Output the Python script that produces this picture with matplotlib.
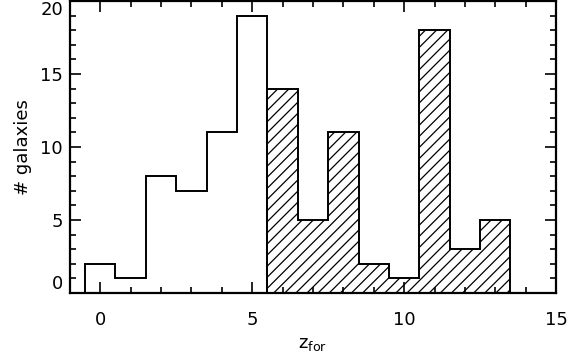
import numpy as np
import matplotlib.pyplot as plt

plt.rcParams['font.family'] = ['DejaVu Sans']
plt.rcParams['hatch.linewidth'] = 0.9

# bin centres and counts
z_young = [0, 1, 2, 3, 4, 5]
n_young = [2, 1, 8, 7, 11, 19]
z_old = [6, 7, 8, 9, 10, 11, 12, 13]
n_old = [14, 5, 11, 2, 1, 18, 3, 5]

def edges(centres):
    c = np.asarray(centres, dtype=float)
    return np.append(c - 0.5, c[-1] + 0.5)

fig = plt.figure(figsize=(5.68, 3.57), dpi=100)
ax = fig.add_axes([0.123, 0.179, 0.856, 0.818])

ax.stairs(n_young, edges(z_young), baseline=0, color='black', linewidth=1.4)
ax.stairs(n_old, edges(z_old), baseline=0, fill=True, facecolor='none',
          edgecolor='black', hatch='///', linewidth=1.4)

ax.set_xlim(-1, 15)
ax.set_ylim(0, 20)
ax.set_xticks([0, 5, 10, 15])
ax.set_yticks([0, 5, 10, 15, 20])
ax.set_xticks(np.arange(-1, 16), minor=True)
ax.set_yticks(np.arange(0, 21), minor=True)
ax.tick_params(which='both', direction='in', top=True, right=True, width=1.2,
               labelsize=13)
ax.tick_params(axis='x', pad=13)
ax.tick_params(axis='y', pad=5)
ax.tick_params(which='major', length=8)
ax.tick_params(which='minor', length=4)
for s in ax.spines.values():
    s.set_linewidth(1.6)

ylabels = ax.get_yticklabels()
ylabels[-1].set_va('top')
ylabels[0].set_va('bottom')

ax.set_xlabel(r'z$_{\rm for}$', fontsize=13, labelpad=4)
ax.set_ylabel('# galaxies', fontsize=13, labelpad=6)

plt.savefig('out.png', dpi=100)
